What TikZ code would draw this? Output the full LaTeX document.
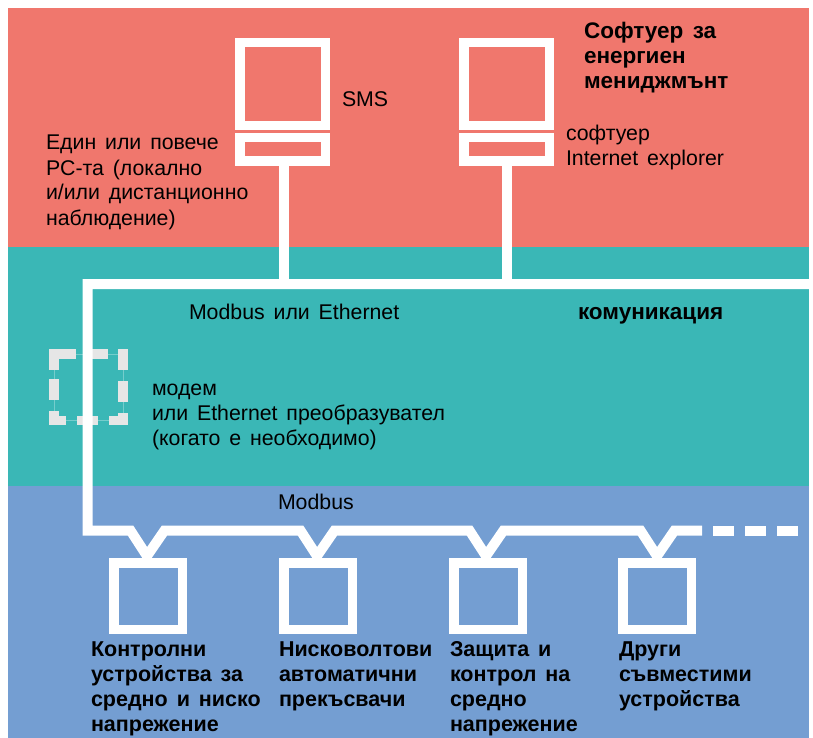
\documentclass[tikz,border=0pt]{standalone}
\usepackage{fontspec}
\setmainfont[WordSpace=1.5]{Liberation Sans}
\usetikzlibrary{calc}
\definecolor{bandred}{HTML}{F0776D}
\definecolor{bandteal}{HTML}{3AB7B6}
\definecolor{bandblue}{HTML}{749ED2}
\definecolor{modemgrey}{HTML}{E6E6E6}
\newcommand\fl{\rule{0pt}{15pt}}
\tikzset{
  x=1pt,y=-1pt,
  wbox/.style={draw=white,line width=9.5pt,inner sep=0,fill=none},
  screen/.style={wbox,minimum width=85.5pt,minimum height=83pt},
  base/.style={wbox,minimum width=85.5pt,minimum height=23.5pt},
  device/.style={wbox,minimum width=68.5pt,minimum height=66.5pt},
  wire/.style={draw=white,line width=10pt,miter limit=10},
  modemline/.style={draw=modemgrey,line width=9.5pt},
  lbl/.style={anchor=north west,inner sep=0,outer sep=0,align=left,text=black,font=\fontsize{21.3}{25}\selectfont},
  blbl/.style={lbl,font=\fontsize{21.5}{25}\selectfont\bfseries},
  btop/.style={lbl,font=\fontsize{22.5}{25}\selectfont\bfseries},
}
\begin{document}
\begin{tikzpicture}
\useasboundingbox (0,0) rectangle (813,738);
\fill[white] (0,0) rectangle (813,738);
\fill[bandred] (8,8) rectangle (809,247);
\fill[bandteal] (8,247) rectangle (809,486);
\fill[bandblue] (8,486) rectangle (809,738);

% modem (dashed)
\draw[draw=bandteal!70!white,line width=0.5pt] (54,354) rectangle (123,420.5);
\draw[modemline] (49,354) -- (76,354) (91,354) -- (108,354) (118,354) -- (128,354)
  (54,349) -- (54,370) (54,379) -- (54,400) (54,411) -- (54,425)
  (123,349) -- (123,370) (123,381) -- (123,402) (123,413) -- (123,425)
  (49,420.5) -- (66,420.5) (77,420.5) -- (98,420.5) (109,420.5) -- (128,420.5);

% computers
\node[screen] (s1) at (282.5,84.25) {};
\node[base] (b1) at (282.5,149.5) {};
\node[screen] (s2) at (506.5,84.25) {};
\node[base] (b2) at (506.5,149.5) {};

% devices
\node[device] (d1) at (148,596) {};
\node[device] (d2) at (318,596) {};
\node[device] (d3) at (488,596) {};
\node[device] (d4) at (657,596) {};

% bus points
\coordinate (busE) at (813,284);
\coordinate (busW) at (87.5,284);
\coordinate (busS) at (87.5,530.5);
\coordinate (t1) at (284,284);
\coordinate (t2) at (507,284);
\coordinate (a1) at (130.5,530.5); \coordinate (v1) at (147,556); \coordinate (c1) at (164.5,530.5);
\coordinate (a2) at (300.5,530.5); \coordinate (v2) at (317,556); \coordinate (c2) at (334.5,530.5);
\coordinate (a3) at (469.5,530.5); \coordinate (v3) at (486,556); \coordinate (c3) at (503.5,530.5);
\coordinate (a4) at (640.5,530.5); \coordinate (v4) at (657,556); \coordinate (c4) at (674.5,530.5);
\coordinate (solidE) at (702,530.5);
\coordinate (e1) at (713,530.5); \coordinate (e2) at (734,530.5);
\coordinate (e3) at (745,530.5); \coordinate (e4) at (766,530.5);
\coordinate (e5) at (777,530.5); \coordinate (e6) at (798,530.5);

% connectors
\draw[wire] (t1 |- b1.south) -- (t1);
\draw[wire] (t2 |- b2.south) -- (t2);
\draw[wire] (busE) -- (busW) -- (busS) -- (a1) -- (v1) -- (c1) -- (a2) -- (v2) -- (c2) -- (a3) -- (v3) -- (c3) -- (a4) -- (v4) -- (c4) -- (solidE);
\draw[wire] (e1) -- (e2) (e3) -- (e4) (e5) -- (e6);

% texts
\node[lbl] (tSMS) at (342,92) {\fl SMS};
\node[lbl] (tPC) at (46,135) {\fl Един или повече\\PC-та (локално\\и/или дистанционно\\наблюдение)};
\node[btop] (tEM) at (584,21.7) {\fl Софтуер за\\енергиен\\мениджмънт};
\node[lbl] (tIE) at (566,125) {\fl софтуер\\Internet explorer};
\node[lbl] (tME) at (189,304) {\fl Modbus или Ethernet};
\node[btop] (tCom) at (578,304) {\fl комуникация};
\node[lbl] (tMod) at (152,380) {\fl модем\\или Ethernet преобразувател\\(когато е необходимо)};
\node[lbl] (tMb) at (278,494) {\fl Modbus};
\node[blbl] (tD1) at (91,641) {\fl Контролни\\устройства за\\средно и ниско\\напрежение};
\node[blbl] (tD2) at (279,641) {\fl Нисковолтови\\автоматични\\прекъсвачи};
\node[blbl] (tD3) at (450,641) {\fl Защита и\\контрол на\\средно\\напрежение};
\node[blbl] (tD4) at (619,641) {\fl Други\\съвместими\\устройства};
\end{tikzpicture}
\end{document}
